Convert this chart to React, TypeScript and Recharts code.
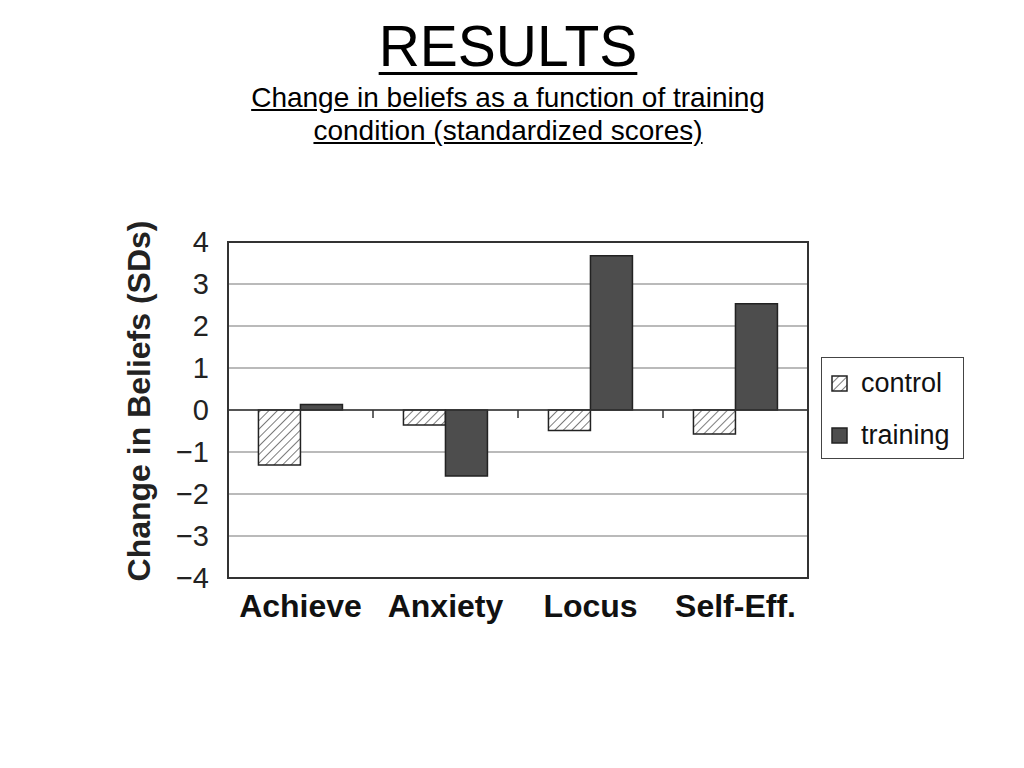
import React from "react";
import {
  BarChart,
  Bar,
  XAxis,
  YAxis,
  CartesianGrid,
  ReferenceLine,
  ReferenceArea,
} from "recharts";

const categories = ["Achieve", "Anxiety", "Locus", "Self-Eff."];
const controlValues = [-1.31, -0.36, -0.49, -0.57];
const trainingValues = [0.13, -1.57, 3.67, 2.53];
const yTicks = [-4, -3, -2, -1, 0, 1, 2, 3, 4];
const seriesNames = ["control", "training"];

const data = categories.map((c, i) => ({
  name: c,
  control: controlValues[i],
  training: trainingValues[i],
}));

const FONT = "'Liberation Sans', Arial, Helvetica, sans-serif";

const ZeroLine = (props: any) => {
  const { x1, x2, y1 } = props;
  const n = categories.length;
  const ticks = [];
  for (let i = 1; i < n; i++) {
    const x = x1 + ((x2 - x1) * i) / n;
    ticks.push(<line key={i} x1={x} x2={x} y1={y1} y2={y1 + 8} stroke="#333" strokeWidth={1.5} />);
  }
  return (
    <g>
      <line x1={x1} x2={x2} y1={y1} y2={y1} stroke="#333" strokeWidth={1.5} />
      {ticks}
    </g>
  );
};

const LegendBox = () => (
  <div
    style={{
      position: "absolute",
      left: 821,
      top: 357,
      width: 143,
      height: 102,
      border: "1.5px solid #444",
      background: "#fff",
      fontFamily: FONT,
      fontSize: 27,
      color: "#111",
      boxSizing: "border-box",
      paddingTop: 11,
      paddingLeft: 9,
    }}
  >
    {seriesNames.map((s, i) => (
      <div key={s} style={{ display: "flex", alignItems: "center", height: 28, marginBottom: i === 0 ? 24 : 0 }}>
        <svg width={17} height={17} style={{ marginRight: 13 }}>
          <rect
            x={1}
            y={1}
            width={15}
            height={15}
            fill={i === 0 ? "url(#hatch)" : "#4d4d4d"}
            stroke="#222"
            strokeWidth={1.5}
          />
        </svg>
        <span>{s}</span>
      </div>
    ))}
  </div>
);

export default function App() {
  return (
    <div style={{ position: "absolute", left: 0, top: 0, width: 1024, height: 768, background: "#fff" }}>
      <svg width={0} height={0} style={{ position: "absolute" }}>
        <defs>
          <pattern id="hatch" patternUnits="userSpaceOnUse" width={6} height={6} patternTransform="rotate(45)">
            <rect x={0} y={0} width={6} height={6} fill="#fff" />
            <line x1={0} y1={0} x2={0} y2={6} stroke="#444" strokeWidth={1.4} />
          </pattern>
        </defs>
      </svg>
      <div
        style={{
          position: "absolute",
          left: 0,
          top: 13,
          width: 1016,
          textAlign: "center",
          fontFamily: FONT,
          color: "#000",
        }}
      >
        <div style={{ fontSize: 57, lineHeight: "66px", textDecoration: "underline", textDecorationThickness: 3, textUnderlineOffset: 6 }}>
          RESULTS
        </div>
        <div style={{ fontSize: 28, lineHeight: "33px", marginTop: 2 }}>
          <span style={{ textDecoration: "underline" }}>Change in beliefs as a function of training</span>
          <br />
          <span style={{ textDecoration: "underline" }}>condition (standardized scores)</span>
        </div>
      </div>
      <div
        style={{
          position: "absolute",
          left: 139,
          top: 401,
          transform: "translate(-50%, -50%) rotate(-90deg)",
          whiteSpace: "nowrap",
          fontFamily: FONT,
          fontWeight: "bold",
          fontSize: 32,
          color: "#222",
        }}
      >
        Change in Beliefs (SDs)
      </div>
      <div style={{ position: "absolute", left: 0, top: 0 }}>
        <BarChart
          width={1024}
          height={768}
          data={data}
          margin={{ top: 242, right: 216, bottom: 130, left: 168 }}
          barCategoryGap="21%"
          barGap={0}
        >
          <CartesianGrid horizontal vertical={false} stroke="#777" strokeWidth={1.2} />
          <ReferenceArea y1={-4} y2={4} fill="none" stroke="#333" strokeWidth={2} ifOverflow="extendDomain" />
          <XAxis
            dataKey="name"
            axisLine={false}
            tickLine={false}
            tick={{ fontFamily: FONT, fontWeight: "bold", fontSize: 32, fill: "#111" }}
            tickMargin={10}
            height={60}
          />
          <YAxis
            domain={[-4, 4]}
            ticks={yTicks}
            interval={0}
            axisLine={false}
            tickLine={false}
            width={60}
            tickMargin={13}
            tickFormatter={(v: number) => String(v).replace("-", "\u2212")}
            tick={{ fontFamily: FONT, fontSize: 29, fill: "#222" }}
          />
          <Bar dataKey="control" name={seriesNames[0]} fill="url(#hatch)" stroke="#222" strokeWidth={1.5} isAnimationActive={false} />
          <Bar dataKey="training" name={seriesNames[1]} fill="#4d4d4d" stroke="#222" strokeWidth={1.5} isAnimationActive={false} />
          <ReferenceLine y={0} shape={ZeroLine} />
        </BarChart>
      </div>
      <LegendBox />
    </div>
  );
}
